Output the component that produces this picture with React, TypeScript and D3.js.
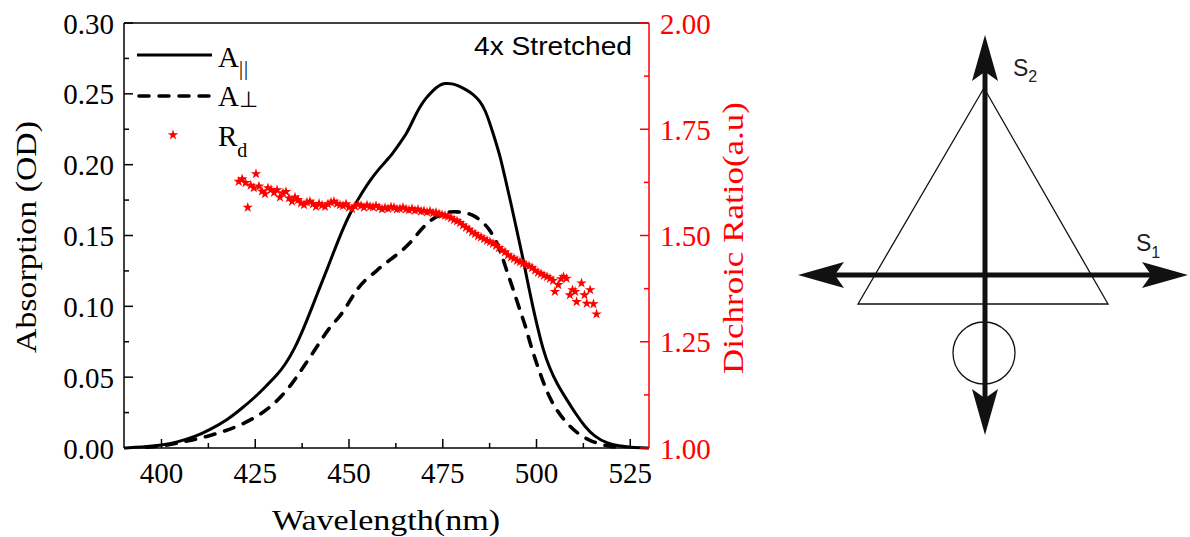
import React from 'react';
import * as d3 from 'd3';

// ---- Data ----
const wlPar = [390, 393, 396, 400, 404, 409, 413, 417.6, 421, 425, 428, 431, 433, 435.5, 438, 440.4, 442, 444, 447.6, 450.3, 452.5, 455.6, 458, 460, 461.4, 463.5, 465.4, 467, 468.9, 470.5, 472.5, 474, 475.5, 477.5, 479.5, 481.4, 483.2, 484.9, 486.3, 487.6, 488.8, 490.3, 491.5, 493, 494.8, 496.5, 497.8, 499, 500.2, 501.8, 503.4, 505.5, 508.1, 510.5, 512.9, 515.5, 518.8, 522, 525, 530];
const aPar = [0.0, 0.0005, 0.001, 0.002, 0.004, 0.008, 0.013, 0.02, 0.027, 0.036, 0.044, 0.052, 0.059, 0.07, 0.085, 0.101, 0.112, 0.125, 0.15, 0.166, 0.176, 0.189, 0.197, 0.203, 0.207, 0.215, 0.222, 0.231, 0.241, 0.247, 0.2527, 0.256, 0.2575, 0.2573, 0.2555, 0.2527, 0.2495, 0.245, 0.2386, 0.229, 0.219, 0.206, 0.192, 0.175, 0.153, 0.1327, 0.115, 0.1, 0.086, 0.069, 0.057, 0.045, 0.034, 0.024, 0.015, 0.008, 0.0033, 0.0015, 0.0005, 0.0];

const wlPerp = [396, 398, 401.6, 405, 408.1, 412, 416.4, 421, 426, 429, 431.9, 435, 437, 439.1, 442.3, 445, 447.6, 449.8, 452, 454, 456.5, 458.5, 460.9, 463.5, 466.3, 468.5, 470.7, 473, 475.2, 477, 478.7, 481, 483.1, 485.5, 487.6, 489, 490.3, 492, 493.4, 494.7, 496, 497.2, 498.5, 500, 501.7, 503.4, 505.5, 508.1, 511, 514, 517, 520, 522];
const aPerp = [0.0005, 0.001, 0.002, 0.004, 0.0056, 0.008, 0.0115, 0.016, 0.023, 0.029, 0.036, 0.046, 0.054, 0.062, 0.075, 0.086, 0.0927, 0.102, 0.1115, 0.118, 0.123, 0.128, 0.1327, 0.138, 0.1445, 0.152, 0.1586, 0.163, 0.1656, 0.1668, 0.1668, 0.1662, 0.1645, 0.16, 0.1539, 0.147, 0.1398, 0.1256, 0.115, 0.1045, 0.094, 0.085, 0.072, 0.06, 0.047, 0.036, 0.026, 0.0174, 0.01, 0.0056, 0.0025, 0.001, 0.0005];

const wlRd = [420.6, 421.5, 422.4, 423.0, 423.8, 424.6, 425.2, 426.0, 426.8, 427.6, 428.4, 429.2, 430.0, 430.8, 431.6, 432.4, 433.2, 434.0, 434.8, 435.6, 436.4, 437.2, 438.0, 438.8, 439.6, 440.4, 441.2, 442.0, 442.8, 443.6, 444.4, 445.2, 446.0, 446.8, 447.6, 448.4, 449.2, 450.0, 450.8, 451.6, 452.4, 453.2, 454.0, 454.8, 455.6, 456.4, 457.2, 458.0, 458.8, 459.6, 460.4, 461.2, 462.0, 462.8, 463.6, 464.4, 465.2, 466.0, 466.8, 467.6, 468.4, 469.2, 470.0, 470.8, 471.6, 472.4, 473.2, 474.0, 474.8, 475.6, 476.4, 477.2, 478.0, 478.8, 479.6, 480.4, 481.2, 482.0, 482.8, 483.6, 484.4, 485.2, 486.0, 486.8, 487.6, 488.4, 489.2, 490.0, 490.8, 491.6, 492.4, 493.2, 494.0, 494.8, 495.6, 496.4, 497.2, 498.0, 498.8, 499.6, 500.4, 501.2, 502.0, 502.8, 503.6, 504.4, 504.9, 505.8, 506.6, 507.2, 508.0, 508.9, 509.6, 510.3, 510.7, 512.0, 512.8, 513.4, 514.3, 515.2, 516.0];
const rd = [1.627, 1.633, 1.624, 1.566, 1.618, 1.612, 1.645, 1.616, 1.604, 1.598, 1.612, 1.608, 1.601, 1.607, 1.59, 1.6, 1.603, 1.588, 1.58, 1.59, 1.584, 1.576, 1.572, 1.578, 1.58, 1.574, 1.568, 1.575, 1.571, 1.568, 1.574, 1.578, 1.58, 1.575, 1.572, 1.57, 1.574, 1.566, 1.563, 1.569, 1.573, 1.57, 1.566, 1.571, 1.568, 1.567, 1.57, 1.566, 1.562, 1.565, 1.563, 1.567, 1.566, 1.562, 1.563, 1.566, 1.562, 1.56, 1.563, 1.559, 1.561, 1.557, 1.558, 1.555, 1.557, 1.553, 1.554, 1.551, 1.549, 1.547, 1.545, 1.541, 1.537, 1.534, 1.53, 1.524, 1.519, 1.514, 1.508, 1.504, 1.499, 1.496, 1.492, 1.488, 1.485, 1.481, 1.476, 1.471, 1.465, 1.461, 1.454, 1.449, 1.446, 1.441, 1.438, 1.434, 1.431, 1.428, 1.424, 1.418, 1.413, 1.41, 1.406, 1.403, 1.399, 1.394, 1.368, 1.384, 1.398, 1.403, 1.399, 1.36, 1.372, 1.368, 1.344, 1.388, 1.36, 1.34, 1.372, 1.339, 1.315];

const xTicks = [400, 425, 450, 475, 500, 525];
const xMinor = [412.5, 437.5, 462.5, 487.5, 512.5];
const yLeftTicks = [0, 0.05, 0.1, 0.15, 0.2, 0.25, 0.3];
const yLeftMinor = [0.025, 0.075, 0.125, 0.175, 0.225, 0.275];
const yRightTicks = [1, 1.25, 1.5, 1.75, 2];
const yRightMinor = [1.125, 1.375, 1.625, 1.875];

const W = 1190, H = 537;
const L = 124, R = 649, T = 23, B = 448;
const serif = "'Times New Roman', 'Liberation Serif', serif";
const sans = "Arial, 'Liberation Sans', sans-serif";
const RED = '#ff0000';

function arrowHead(tx: number, ty: number, dx: number, dy: number) {
  const len = 46, hw = 13, notch = 0.8;
  const nx = -dy, ny = dx;
  const bx = tx - dx * len, by = ty - dy * len;
  const p = d3.path();
  p.moveTo(tx, ty);
  p.lineTo(bx + nx * hw, by + ny * hw);
  p.lineTo(tx - dx * len * notch, ty - dy * len * notch);
  p.lineTo(bx - nx * hw, by - ny * hw);
  p.closePath();
  return p.toString();
}

export default function App() {
  const x = d3.scaleLinear().domain([390, 530]).range([L, R]);
  const yL = d3.scaleLinear().domain([0, 0.3]).range([B, T]);
  const yR = d3.scaleLinear().domain([1, 2]).range([B, T]);

  const lineL = d3.line<[number, number]>().x(d => x(d[0])).y(d => yL(d[1])).curve(d3.curveBasis);
  const parPath = lineL(wlPar.map((w, i) => [w, aPar[i]]) as [number, number][]) || '';
  const perpPath = lineL(wlPerp.map((w, i) => [w, aPerp[i]]) as [number, number][]) || '';
  const star = d3.symbol().type(d3.symbolStar).size(34)() || '';

  const majorLen = 9, minorLen = 5;

  const cx = 985, hy = 275;
  const vTop = 35, vBot = 435, hLeft = 798, hRight = 1188;

  return (
    <div style={{ position: 'absolute', left: 0, top: 0 }}>
      <svg width={W} height={H} viewBox={`0 0 ${W} ${H}`} style={{ display: 'block', background: '#fff' }}>
        <rect x={0} y={0} width={W} height={H} fill="#fff" />
        <path d={parPath} fill="none" stroke="#000" strokeWidth={3} strokeLinejoin="round" />
        <path d={perpPath} fill="none" stroke="#000" strokeWidth={3.6} strokeDasharray="10,10" strokeLinecap="round" />
        {wlRd.map((w, i) => (
          <path key={i} d={star} transform={`translate(${x(w)},${yR(rd[i])})`} fill={RED} />
        ))}

        <line x1={L} x2={R} y1={T} y2={T} stroke="#000" strokeWidth={1.5} />
        <line x1={L} x2={R} y1={B} y2={B} stroke="#000" strokeWidth={1.5} />
        <line x1={L} x2={L} y1={T} y2={B} stroke="#000" strokeWidth={1.5} />
        <line x1={R} x2={R} y1={T} y2={B} stroke={RED} strokeWidth={1.5} />

        {xTicks.map(t => (
          <g key={'xt' + t}>
            <line x1={x(t)} x2={x(t)} y1={B} y2={B - majorLen} stroke="#000" strokeWidth={1.5} />
            <text x={x(t)} y={483} textAnchor="middle" fontFamily={serif} fontSize={29} fill="#000">{t}</text>
          </g>
        ))}
        {xMinor.map(t => (
          <line key={'xm' + t} x1={x(t)} x2={x(t)} y1={B} y2={B - minorLen} stroke="#000" strokeWidth={1.5} />
        ))}
        {yLeftTicks.map(t => (
          <g key={'yl' + t}>
            <line x1={L} x2={L + majorLen} y1={yL(t)} y2={yL(t)} stroke="#000" strokeWidth={1.5} />
            <text x={114} y={yL(t) + 10.5} textAnchor="end" fontFamily={serif} fontSize={29} fill="#000">{t.toFixed(2)}</text>
          </g>
        ))}
        {yLeftMinor.map(t => (
          <line key={'ylm' + t} x1={L} x2={L + minorLen} y1={yL(t)} y2={yL(t)} stroke="#000" strokeWidth={1.5} />
        ))}
        {yRightTicks.map(t => (
          <g key={'yr' + t}>
            <line x1={R} x2={R - majorLen} y1={yR(t)} y2={yR(t)} stroke={RED} strokeWidth={1.5} />
            <text x={660} y={yR(t) + 10.5} textAnchor="start" fontFamily={serif} fontSize={29} fill={RED}>{t.toFixed(2)}</text>
          </g>
        ))}
        {yRightMinor.map(t => (
          <line key={'yrm' + t} x1={R} x2={R - minorLen} y1={yR(t)} y2={yR(t)} stroke={RED} strokeWidth={1.5} />
        ))}

        <text x={272} y={530} fontFamily={serif} fontSize={30} textLength={228} lengthAdjust="spacingAndGlyphs" fill="#000">Wavelength(nm)</text>
        <text transform="translate(36,237) rotate(-90)" textAnchor="middle" fontFamily={serif} fontSize={30} textLength={232} lengthAdjust="spacingAndGlyphs" fill="#000">Absorption (OD)</text>
        <text transform="translate(743,238) rotate(-90)" textAnchor="middle" fontFamily={serif} fontSize={30} textLength={272} lengthAdjust="spacingAndGlyphs" fill={RED}>Dichroic Ratio(a.u)</text>

        <text x={474} y={55} fontFamily={sans} fontSize={26} textLength={158} lengthAdjust="spacingAndGlyphs" fill="#000">4x Stretched</text>

        <line x1={137} x2={212} y1={55} y2={55} stroke="#000" strokeWidth={3} />
        <text x={218} y={67} fontFamily={serif} fontSize={29} fill="#000">A<tspan fontSize={20} dy={8} letterSpacing={1}>||</tspan></text>
        <line x1={139} x2={210} y1={96} y2={96} stroke="#000" strokeWidth={3.6} strokeDasharray="10,10" strokeLinecap="round" />
        <text x={218} y={106} fontFamily={serif} fontSize={29} fill="#000">A<tspan fontSize={22} dy={1}>⊥</tspan></text>
        <path d={star} transform="translate(173,135)" fill={RED} />
        <text x={218} y={146} fontFamily={serif} fontSize={29} fill="#000">R<tspan fontSize={20} dy={11}>d</tspan></text>

        <polygon points="984,88 858,304 1108,304" fill="none" stroke="#111" strokeWidth={1.3} />
        <circle cx={984} cy={353} r={31} fill="none" stroke="#111" strokeWidth={1.3} />
        <line x1={cx} x2={cx} y1={vTop + 30} y2={vBot - 30} stroke="#111" strokeWidth={5} />
        <line x1={hLeft + 30} x2={hRight - 30} y1={hy} y2={hy} stroke="#111" strokeWidth={5} />
        <path d={arrowHead(cx, vTop, 0, -1)} fill="#111" />
        <path d={arrowHead(cx, vBot, 0, 1)} fill="#111" />
        <path d={arrowHead(hLeft, hy, -1, 0)} fill="#111" />
        <path d={arrowHead(hRight, hy, 1, 0)} fill="#111" />
        <text x={1013} y={76} fontFamily={sans} fontSize={23} fill="#222">S<tspan fontSize={16} dy={6}>2</tspan></text>
        <text x={1136} y={251} fontFamily={sans} fontSize={23} fill="#222">S<tspan fontSize={16} dy={7}>1</tspan></text>
      </svg>
    </div>
  );
}
